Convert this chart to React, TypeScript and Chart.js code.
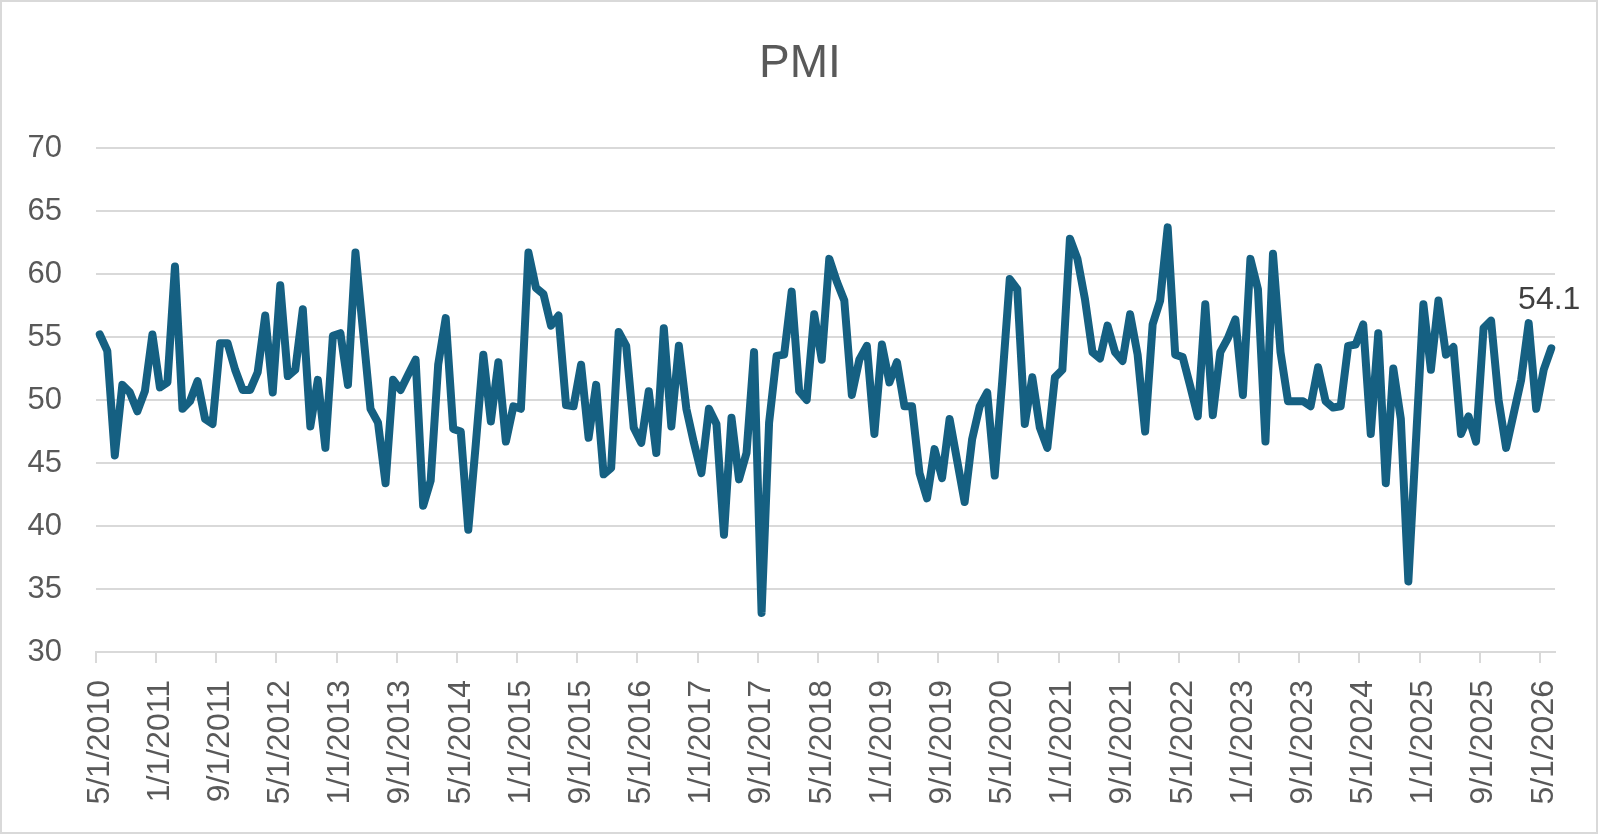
import { useEffect, useRef } from "react"
import { Chart, registerables, type ChartConfiguration, type Plugin } from "chart.js"

Chart.register(...registerables)

// primer mes de la serie (5/1/2010), una observación por mes
const START_YEAR = 2010
const START_MONTH = 5
const LABEL_EVERY = 8

const chartTitle = "PMI"

// valores, mes a mes
const pmiValues: number[] = [
	55.2, 53.9, 45.6, 51.2, 50.6, 49.1, 50.7, 55.2, 51.0, 51.4, 60.6, 49.3,
	49.9, 51.5, 48.5, 48.1, 54.5, 54.5, 52.4, 50.8, 50.8, 52.2, 56.7, 50.6,
	59.1, 51.9, 52.4, 57.2, 47.9, 51.6, 46.2, 55.1, 55.3, 51.2, 61.7, 55.5,
	49.3, 48.2, 43.4, 51.6, 50.8, 52.0, 53.2, 41.6, 43.6, 52.8, 56.5, 47.7,
	47.5, 39.7, 46.5, 53.6, 48.3, 53.0, 46.7, 49.5, 49.3, 61.7, 58.9, 58.4,
	55.9, 56.7, 49.6, 49.5, 52.8, 47.0, 51.2, 44.1, 44.6, 55.4, 54.3, 47.8,
	46.6, 50.7, 45.8, 55.7, 47.9, 54.3, 49.3, 46.6, 44.2, 49.3, 48.1, 39.3,
	48.6, 43.7, 45.8, 53.8, 33.1, 48.2, 53.5, 53.6, 58.6, 50.7, 50.0, 56.8,
	53.2, 61.2, 59.4, 57.9, 50.4, 53.2, 54.3, 47.3, 54.4, 51.4, 53.0, 49.5,
	49.5, 44.2, 42.2, 46.1, 43.8, 48.5, 45.2, 41.9, 46.9, 49.5, 50.6, 44.0,
	51.5, 59.6, 58.8, 48.1, 51.8, 47.8, 46.2, 51.8, 52.4, 62.8, 61.2, 58.0,
	53.8, 53.3, 55.9, 53.8, 53.1, 56.8, 53.6, 47.5, 56.0, 57.9, 63.7, 53.6,
	53.4, 51.1, 48.7, 57.6, 48.8, 53.8, 54.9, 56.4, 50.4, 61.2, 58.8, 46.7,
	61.6, 53.8, 49.9, 49.9, 49.9, 49.5, 52.6, 49.9, 49.4, 49.5, 54.3, 54.4,
	56.0, 47.3, 55.3, 43.4, 52.5, 48.5, 35.6, 46.6, 57.6, 52.4, 57.9, 53.6,
	54.2, 47.3, 48.7, 46.7, 55.7, 56.3, 50.0, 46.2, 48.9, 51.6, 56.1, 49.3,
	52.4, 54.1,
]

// etiquetas M/1/AAAA para cada mes
const monthLabels: string[] = pmiValues.map((_, i) => {
	const m = START_MONTH - 1 + i
	return `${(m % 12) + 1}/1/${START_YEAR + Math.floor(m / 12)}`
})

const Y_MIN = 30
const Y_MAX = 70
const Y_STEP = 5

const LINE_COLOR = "#156082"
const GRID_COLOR = "#d9d9d9"
const TEXT_COLOR = "#595959"
const FONT = "Liberation Sans"

// titulo, marcas del eje X (en el borde izquierdo de cada mes etiquetado) y etiqueta del ultimo dato
const overlayPlugin: Plugin<"line"> = {
	id: "overlay",
	afterDraw(chart) {
		const { ctx } = chart
		const xScale = chart.scales.x
		const half = (xScale.getPixelForValue(1) - xScale.getPixelForValue(0)) / 2
		ctx.save()
		ctx.strokeStyle = GRID_COLOR
		ctx.lineWidth = 2
		ctx.beginPath()
		for (let i = 0; i < monthLabels.length; i += LABEL_EVERY) {
			const x = Math.round(xScale.getPixelForValue(i) - half)
			ctx.moveTo(x, chart.chartArea.bottom)
			ctx.lineTo(x, chart.chartArea.bottom + 11)
		}
		ctx.stroke()

		const meta = chart.getDatasetMeta(0)
		const last = meta.data[meta.data.length - 1]
		ctx.textAlign = "center"
		ctx.textBaseline = "middle"
		ctx.fillStyle = "#404040"
		ctx.font = `32px "${FONT}"`
		ctx.fillText(pmiValues[pmiValues.length - 1].toFixed(1), last.x - 2, last.y - 48)
		ctx.fillStyle = TEXT_COLOR
		ctx.font = `46px "${FONT}"`
		ctx.fillText(chartTitle, chart.width / 2, 64)
		ctx.restore()
	},
}

export default function App() {
	const canvasRef = useRef<HTMLCanvasElement>(null)
	const chartRef = useRef<Chart | null>(null)

	useEffect(() => {
		document.body.style.margin = "0"
		if (!canvasRef.current) return
		if (chartRef.current) chartRef.current.destroy()

		const config: ChartConfiguration<"line"> = {
			type: "line",
			data: {
				labels: monthLabels,
				datasets: [
					{
						label: chartTitle,
						data: pmiValues,
						borderColor: LINE_COLOR,
						borderWidth: 8,
						borderJoinStyle: "round",
						borderCapStyle: "round",
						pointRadius: 0,
						tension: 0,
						fill: false,
					},
				],
			},
			options: {
				responsive: true,
				maintainAspectRatio: false,
				animation: false,
				layout: { padding: { top: 148, left: 0, right: 45, bottom: 0 } },
				plugins: {
					legend: { display: false },
					title: { display: false },
					tooltip: { enabled: false },
				},
				scales: {
					x: {
						type: "category",
						offset: true,
						afterFit: (scale) => {
							scale.height = 182
							scale.paddingLeft = 0
							scale.paddingRight = 0
						},
						grid: { display: false },
						border: { display: true, color: GRID_COLOR, width: 2 },
						ticks: {
							autoSkip: false,
							maxRotation: 90,
							minRotation: 90,
							padding: 20,
							color: TEXT_COLOR,
							font: { family: FONT, size: 32 },
							callback: (_v, index) => (index % LABEL_EVERY === 0 ? monthLabels[index] : null),
						},
					},
					y: {
						min: Y_MIN,
						max: Y_MAX,
						afterFit: (scale) => {
							scale.width = 96
						},
						grid: { color: GRID_COLOR, lineWidth: 2, drawTicks: false },
						border: { display: false },
						ticks: {
							stepSize: Y_STEP,
							padding: 34,
							color: TEXT_COLOR,
							font: { family: FONT, size: 31 },
						},
					},
				},
			},
			plugins: [overlayPlugin],
		}

		chartRef.current = new Chart(canvasRef.current, config)

		return () => {
			if (chartRef.current) {
				chartRef.current.destroy()
				chartRef.current = null
			}
		}
	}, [])

	return (
		<div style={{ position: "relative", width: 1600, height: 834, background: "#fff" }}>
			<canvas ref={canvasRef}></canvas>
			<div
				style={{
					position: "absolute",
					left: 0,
					top: 0,
					width: 1598,
					height: 834,
					boxSizing: "border-box",
					border: `2px solid ${GRID_COLOR}`,
					pointerEvents: "none",
				}}
			></div>
		</div>
	)
}
